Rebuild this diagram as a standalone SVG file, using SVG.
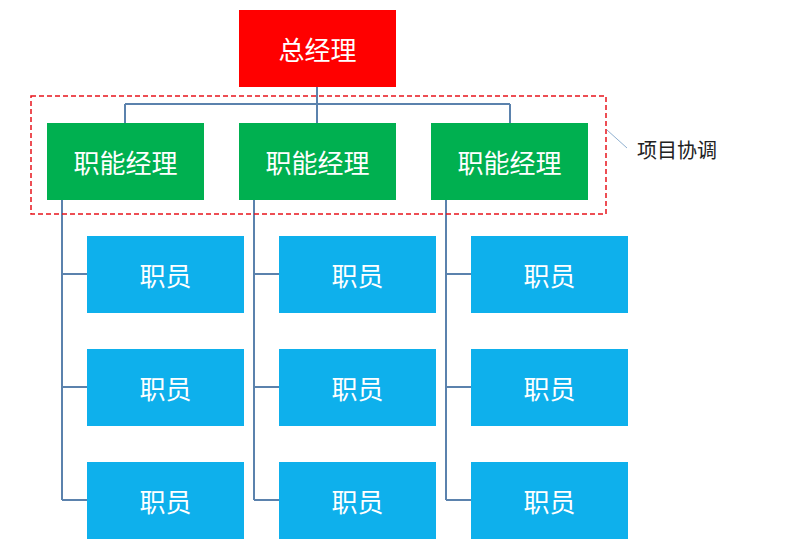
<svg xmlns="http://www.w3.org/2000/svg" width="791" height="550" viewBox="0 0 791 550">
<style>
.t{font-family:"Noto Sans CJK SC",sans-serif;fill:#fff;text-anchor:middle;dominant-baseline:central}
.g{fill:#00b050}.b{fill:#0eb0ec}
.c{fill:none;stroke:#5b82ad;stroke-width:2}
</style>
<rect width="791" height="550" fill="#fff"/>
<g id="connectors">
<path class="c" d="M317 87V104M125 104H510M125 104V123M317 104V123M510 104V123"/>
<path class="c" d="M62 200V500M62 274H87M62 387H87M62 500H87"/>
<path class="c" d="M254 200V500M254 274H279M254 387H279M254 500H279"/>
<path class="c" d="M446 200V500M446 274H471M446 387H471M446 500H471"/>
<path d="M607 130L627 148" stroke="#8fb0d0" stroke-width="1"/>
</g>
<g id="gm"><rect x="239" y="10" width="157" height="77" fill="#ff0000"/><text class="t" x="317.5" y="48" font-size="26">总经理</text></g>
<g id="m1"><rect class="g" x="47" y="123" width="157" height="77"/><text class="t" x="125.5" y="161" font-size="26">职能经理</text></g>
<g id="m2"><rect class="g" x="239" y="123" width="157" height="77"/><text class="t" x="317.5" y="161" font-size="26">职能经理</text></g>
<g id="m3"><rect class="g" x="431" y="123" width="157" height="77"/><text class="t" x="509.5" y="161" font-size="26">职能经理</text></g>
<g id="coord"><rect x="31" y="96" width="575" height="118" fill="none" stroke="#e8141c" stroke-width="1.5" stroke-dasharray="5,3"/>
<text x="637" y="149" font-family="Noto Sans CJK SC,sans-serif" font-size="20" fill="#222" dominant-baseline="central">项目协调</text></g>
<g id="s11"><rect class="b" x="87" y="236" width="157" height="77"/><text class="t" x="165.5" y="274" font-size="26">职员</text></g>
<g id="s12"><rect class="b" x="87" y="349" width="157" height="77"/><text class="t" x="165.5" y="387" font-size="26">职员</text></g>
<g id="s13"><rect class="b" x="87" y="462" width="157" height="77"/><text class="t" x="165.5" y="500" font-size="26">职员</text></g>
<g id="s21"><rect class="b" x="279" y="236" width="157" height="77"/><text class="t" x="357.5" y="274" font-size="26">职员</text></g>
<g id="s22"><rect class="b" x="279" y="349" width="157" height="77"/><text class="t" x="357.5" y="387" font-size="26">职员</text></g>
<g id="s23"><rect class="b" x="279" y="462" width="157" height="77"/><text class="t" x="357.5" y="500" font-size="26">职员</text></g>
<g id="s31"><rect class="b" x="471" y="236" width="157" height="77"/><text class="t" x="549.5" y="274" font-size="26">职员</text></g>
<g id="s32"><rect class="b" x="471" y="349" width="157" height="77"/><text class="t" x="549.5" y="387" font-size="26">职员</text></g>
<g id="s33"><rect class="b" x="471" y="462" width="157" height="77"/><text class="t" x="549.5" y="500" font-size="26">职员</text></g>
</svg>
